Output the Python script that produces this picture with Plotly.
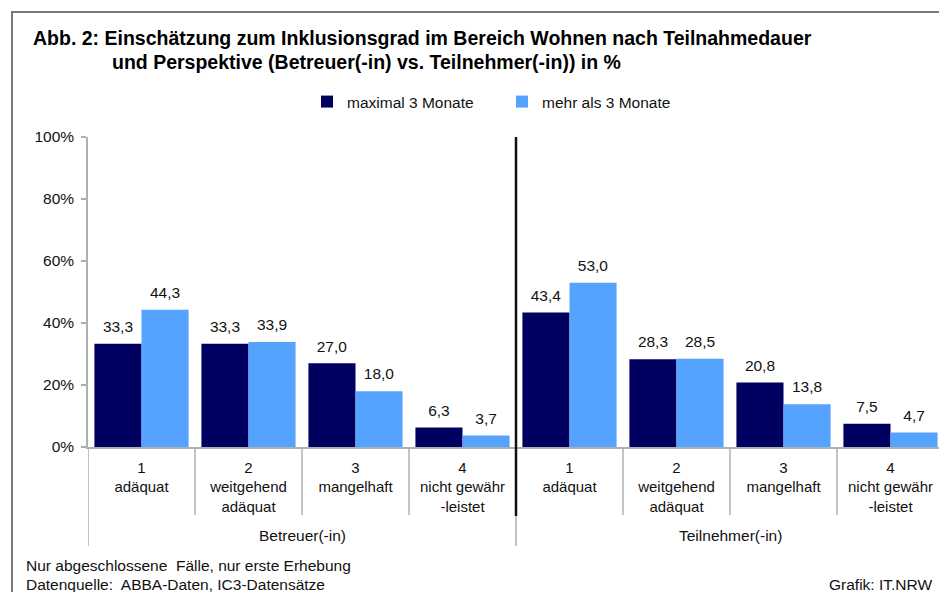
import plotly.graph_objects as go

# ---- data ----
categories = ["1<br>adäquat", "2<br>weitgehend<br>adäquat", "3<br>mangelhaft", "4<br>nicht gewähr<br>-leistet",
              "1<br>adäquat", "2<br>weitgehend<br>adäquat", "3<br>mangelhaft", "4<br>nicht gewähr<br>-leistet"]
groups = ["Betreuer(-in)", "Teilnehmer(-in)"]
series_names = ["maximal 3 Monate", "mehr als 3 Monate"]
max3 = [33.3, 33.3, 27.0, 6.3, 43.4, 28.3, 20.8, 7.5]
more3 = [44.3, 33.9, 18.0, 3.7, 53.0, 28.5, 13.8, 4.7]
y_ticks = [0, 20, 40, 60, 80, 100]
y_ticktext = ["0%", "20%", "40%", "60%", "80%", "100%"]

DARK = "#000060"
LIGHT = "#56a2ff"
AX = "#a9b2b2"
FONT = "Liberation Sans, Arial, sans-serif"
TXT = "#111111"
FS = 15.5

W, H = 939, 592
ML, MT, MB = 88, 137, 145
plot_h = H - MT - MB
plot_w = W - ML
ncat = len(categories)
cat_px = 107.0
x_max = -0.5 + plot_w / cat_px

xs = list(range(ncat))
fig = go.Figure()
for name, vals, col in [(series_names[0], max3, DARK), (series_names[1], more3, LIGHT)]:
    fig.add_trace(go.Bar(
        x=xs, y=vals, name=name, marker=dict(color=col, line=dict(width=0)),
        texttemplate=f"<span style='font-size:{FS}px'>%{{y:.1f}}</span><br>&nbsp;",
        textposition="outside", cliponaxis=False, constraintext="none",
        textfont=dict(family=FONT, size=6, color=TXT),
    ))

def py(px):
    """pixel y (from top) -> paper y"""
    return (H - MB - px) / plot_h

def pxx(px):
    return (px - ML) / plot_w

shapes = []
# frame
shapes.append(dict(type="rect", xref="paper", yref="paper", x0=pxx(12), x1=pxx(990), y0=py(640), y1=py(12),
                   line=dict(color="#6e7c7c", width=2)))
# category separators
for i in range(ncat):
    xb = i - 0.5
    if i == 0 or i == ncat // 2:
        bottom = py(546)
    else:
        bottom = py(515)
    shapes.append(dict(type="line", xref="x", yref="paper", x0=xb, x1=xb, y0=0, y1=bottom,
                       line=dict(color=AX, width=1.5)))
# thick group divider
shapes.append(dict(type="line", xref="x", yref="paper", x0=ncat / 2 - 0.5, x1=ncat / 2 - 0.5, y0=1, y1=py(516),
                   line=dict(color="#111111", width=2.5)))

annotations = []
half = ncat // 2
for gi, g in enumerate(groups):
    annotations.append(dict(text=g, x=gi * half + (half - 1) / 2, xref="x", y=py(535), yref="paper",
                            showarrow=False, font=dict(family=FONT, size=FS, color=TXT), yanchor="middle"))
annotations += [
    dict(text="<b>Abb. 2: Einschätzung zum Inklusionsgrad im Bereich Wohnen nach Teilnahmedauer</b>",
         xref="paper", yref="paper", x=pxx(31), y=py(38), xanchor="left", yanchor="middle", showarrow=False,
         font=dict(family=FONT, size=19.5, color="#000000")),
    dict(text="<b>und Perspektive (Betreuer(-in) vs. Teilnehmer(-in)) in %</b>",
         xref="paper", yref="paper", x=pxx(110), y=py(62), xanchor="left", yanchor="middle", showarrow=False,
         font=dict(family=FONT, size=19.5, color="#000000")),
    dict(text="Nur abgeschlossene  Fälle, nur erste Erhebung", xref="paper", yref="paper",
         x=pxx(24), y=py(565), xanchor="left", yanchor="middle", showarrow=False,
         font=dict(family=FONT, size=FS, color=TXT)),
    dict(text="Datenquelle:  ABBA-Daten, IC3-Datensätze", xref="paper", yref="paper",
         x=pxx(24), y=py(584), xanchor="left", yanchor="middle", showarrow=False,
         font=dict(family=FONT, size=FS, color=TXT)),
    dict(text="Grafik: IT.NRW", xref="paper", yref="paper",
         x=pxx(934), y=py(584), xanchor="right", yanchor="middle", showarrow=False,
         font=dict(family=FONT, size=FS, color=TXT)),
]

fig.update_layout(
    width=W, height=H,
    margin=dict(l=ML, r=0, t=MT, b=MB),
    paper_bgcolor="white", plot_bgcolor="white",
    separators=",.",
    barmode="group", bargap=0.12, bargroupgap=0,
    font=dict(family=FONT, size=FS, color=TXT),
    showlegend=True,
    legend=dict(orientation="h", x=pxx(307), y=py(102), xanchor="left", yanchor="middle",
                font=dict(family=FONT, size=FS, color=TXT), entrywidth=150, itemwidth=30,
                bgcolor="rgba(0,0,0,0)"),
    xaxis=dict(range=[-0.5, x_max], tickvals=xs, ticktext=categories, showline=True, linecolor=AX, linewidth=1.5,
               ticks="", showgrid=False, zeroline=False, tickfont=dict(family=FONT, size=15, color=TXT),
               ticklabelstandoff=6, fixedrange=True),
    yaxis=dict(range=[0, 100], tickvals=y_ticks, ticktext=y_ticktext, showline=True, linecolor=AX, linewidth=1.5,
               ticks="outside", ticklen=5, tickcolor=AX, tickwidth=1.5, showgrid=False, zeroline=False,
               tickfont=dict(family=FONT, size=FS, color=TXT), ticklabelstandoff=4, fixedrange=True),
    shapes=shapes,
    annotations=annotations,
)

fig.write_html("out.html", config={"displayModeBar": False},
               post_script="document.body.style.margin='0';document.body.style.overflow='hidden';")
